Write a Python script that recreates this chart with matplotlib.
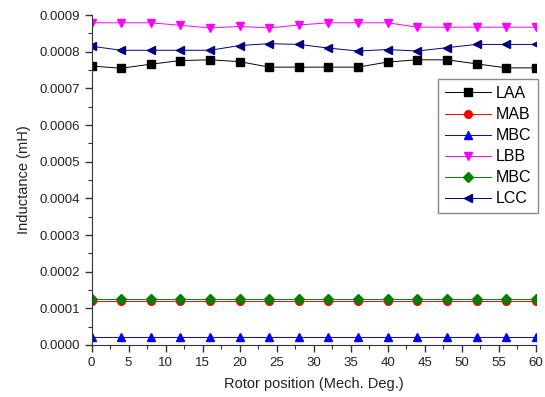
import matplotlib
matplotlib.use('Agg')
import matplotlib.pyplot as plt
from matplotlib.ticker import MultipleLocator, FormatStrFormatter

plt.rcParams['font.family'] = ['Liberation Sans', 'DejaVu Sans']

# rotor position (mechanical degrees)
pos = [0, 4, 8, 12, 16, 20, 24, 28, 32, 36, 40, 44, 48, 52, 56, 60]

# inductances (mH)
laa = [0.000761, 0.000755, 0.000766, 0.000776, 0.000778, 0.000773, 0.000758, 0.000758,
       0.000758, 0.000758, 0.000772, 0.000778, 0.000778, 0.000767, 0.000756, 0.000756]
mab = [0.000121] * 16
mbc = [0.000022] * 16
lbb = [0.000879, 0.000879, 0.000879, 0.000872, 0.000865, 0.000869, 0.000865, 0.000873,
       0.000879, 0.000879, 0.000879, 0.000867, 0.000867, 0.000867, 0.000867, 0.000867]
mbc2 = [0.000125] * 16
lcc = [0.000815, 0.000804, 0.000804, 0.000804, 0.000804, 0.000817, 0.000822, 0.00082,
       0.00081, 0.000802, 0.000806, 0.000802, 0.000811, 0.00082, 0.00082, 0.00082]

fig = plt.figure(figsize=(5.45, 3.97), dpi=100)
ax = fig.add_axes([0.168, 0.131, 0.815, 0.831])

ms = 5.5
lw = 0.7
ax.plot(pos, laa, '-s', color='black', lw=lw, ms=ms, label='LAA')
ax.plot(pos, mab, '-o', color='red', lw=lw, ms=ms, label='MAB')
ax.plot(pos, mbc, '-^', color='blue', lw=lw, ms=ms, label='MBC')
ax.plot(pos, lbb, '-v', color='magenta', lw=lw, ms=ms, label='LBB')
ax.plot(pos, mbc2, '-D', color='green', lw=lw, ms=ms - 0.5, label='MBC')
ax.plot(pos, lcc, '-<', color='navy', lw=lw, ms=ms, label='LCC')

ax.set_xlim(0, 60)
ax.set_ylim(0, 0.0009)
ax.xaxis.set_major_locator(MultipleLocator(5))
ax.xaxis.set_minor_locator(MultipleLocator(2.5))
ax.yaxis.set_major_locator(MultipleLocator(0.0001))
ax.yaxis.set_minor_locator(MultipleLocator(0.00005))
ax.yaxis.set_major_formatter(FormatStrFormatter('%.4f'))

ax.spines['top'].set_visible(False)
ax.spines['right'].set_visible(False)
for s in ['left', 'bottom']:
    ax.spines[s].set_color('#333333')
ax.tick_params(which='major', direction='out', length=5, width=1, labelsize=9.5,
               colors='#333333', labelcolor='#222222')
ax.tick_params(which='minor', direction='out', length=3, width=0.8, colors='#333333')

ax.set_xlabel('Rotor position (Mech. Deg.)', fontsize=10.5, color='#222222', labelpad=6)
ax.set_ylabel('Inductance (mH)', fontsize=10.5, color='#222222', labelpad=6)

leg = ax.legend(loc='upper right', bbox_to_anchor=(1.004, 0.805), borderaxespad=0,
                fontsize=11.5, fancybox=False, edgecolor='#888888', framealpha=1,
                handlelength=2.9, handletextpad=0.3, labelspacing=0.38,
                borderpad=0.4, handleheight=0.6)
leg.get_frame().set_linewidth(1)

fig.savefig('out.png', dpi=100)
